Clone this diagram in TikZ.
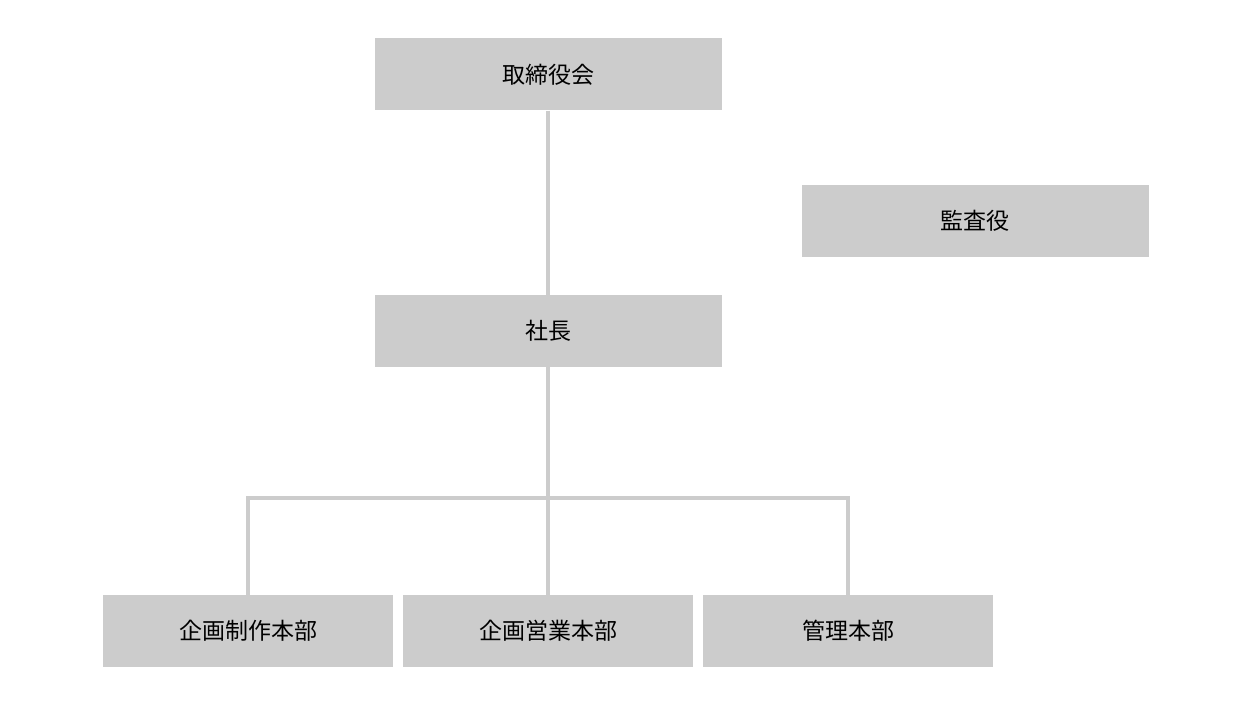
\documentclass[tikz,border=0pt]{standalone}
\usepackage{fontspec}
\setmainfont{Noto Sans CJK JP}
\newfontfamily\cjk{Noto Sans CJK JP}
\definecolor{boxgray}{HTML}{CCCCCC}
\definecolor{linegray}{HTML}{CCCCCC}
\begin{document}
\begin{tikzpicture}[x=1pt,y=-1pt,
  orgbox/.style={fill=boxgray, draw=none, minimum width=#1, minimum height=72pt, inner sep=0pt, font=\cjk\fontsize{23}{27}\selectfont, text=black},
  orgbox/.default=347pt,
  link/.style={draw=linegray, line width=4pt}]
\useasboundingbox (0,0) rectangle (1250,708);
\node[orgbox] (board) at (548,74.5) {取締役会};
\node[orgbox] (audit) at (975,221) {監査役};
\node[orgbox] (pres) at (548,331) {社長};
\node[orgbox=290pt] (d1) at (248,631) {企画制作本部};
\node[orgbox=290pt] (d2) at (548,631) {企画営業本部};
\node[orgbox=290pt] (d3) at (848,631) {管理本部};
\coordinate (bus) at (548,498);
\draw[link] (board.south) -- (pres.north);
\draw[link] (pres.south) -- (bus);
\draw[link, line join=miter] (d1.north) |- (bus) -| (d3.north);
\draw[link] (bus) -- (d2.north);
\end{tikzpicture}
\end{document}
